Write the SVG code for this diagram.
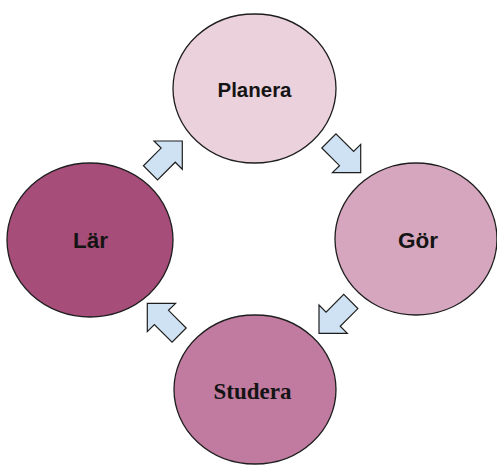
<svg xmlns="http://www.w3.org/2000/svg" width="497" height="465" viewBox="0 0 497 465">
  <defs>
    <style>
      .node { stroke: #1e1e1e; stroke-width: 1.3; }
      .label { font-family: "Liberation Sans", Arial, sans-serif; font-weight: bold; fill: #141414; text-anchor: middle; }
      .serif { font-family: "Liberation Serif", "Times New Roman", serif; font-weight: bold; fill: #141414; text-anchor: middle; }
      .arrow { fill: #cfe2f3; stroke: #1e1e1e; stroke-width: 1.2; stroke-linejoin: miter; }
    </style>
    <!-- block arrow, tip at origin, pointing along +x -->
    <path id="blockArrow" d="M0,0 L-20,-20 L-20,-10 L-45,-10 L-45,10 L-20,10 L-20,20 Z"/>
  </defs>

  <rect width="497" height="465" fill="#ffffff"/>

  <g id="connectors">
    <use href="#blockArrow" class="arrow" transform="translate(182.3,141) rotate(-45)"/>
    <use href="#blockArrow" class="arrow" transform="translate(360.7,172.7) rotate(45)"/>
    <use href="#blockArrow" class="arrow" transform="translate(319,333.3) rotate(135)"/>
    <use href="#blockArrow" class="arrow" transform="translate(147.3,303.3) rotate(-135)"/>
  </g>

  <g id="planera">
    <ellipse class="node" cx="254.5" cy="88.5" rx="81.5" ry="74.5" fill="#ead1dc"/>
    <text class="label" x="254.5" y="97.3" font-size="20.5">Planera</text>
  </g>

  <g id="gor">
    <ellipse class="node" cx="416" cy="239" rx="81" ry="76" fill="#d5a6bd"/>
    <text class="label" x="418" y="248" font-size="22.5">Gör</text>
  </g>

  <g id="studera">
    <ellipse class="node" cx="255" cy="389.5" rx="81" ry="74.5" fill="#c27ba0"/>
    <text class="serif" x="252.5" y="399.3" font-size="23">Studera</text>
  </g>

  <g id="lar">
    <ellipse class="node" cx="90" cy="240" rx="83" ry="77" fill="#a64d79"/>
    <text class="label" x="90.5" y="248" font-size="22.5">Lär</text>
  </g>
</svg>
